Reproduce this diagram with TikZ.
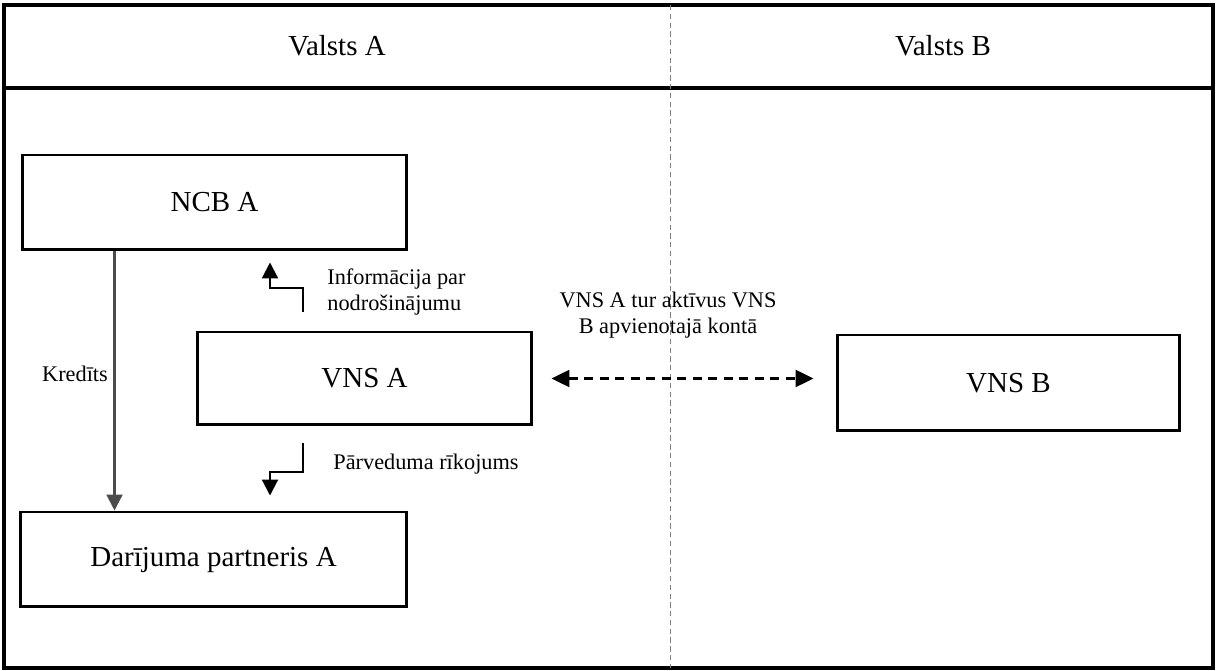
\documentclass[tikz,border=0pt]{standalone}
\usepackage{fontspec}
\setmainfont{Liberation Serif}
\usepackage{tikz}
\usetikzlibrary{arrows.meta,positioning}

\begin{document}
\begin{tikzpicture}[x=0.02cm, y=-0.02cm,
      box/.style={rectangle, draw=black, line width=1.7pt, fill=white,
                  font=\fontsize{16.5}{20}\selectfont, inner sep=0pt},
      lbl/.style={font=\fontsize{12.7}{15}\selectfont, inner sep=0pt},
      arr/.style={-{Triangle[length=3.2mm, width=3.2mm]}, line width=1.2pt, draw=black},
      darr/.style={{Triangle[length=3.6mm, width=3.4mm]}-{Triangle[length=3.6mm, width=3.4mm]},
                   line width=1.3pt, dash pattern=on 1.8mm off 1.3mm}]
    \useasboundingbox (0,0) rectangle (1218,671);
    % frame and header
    \draw[line width=2.2pt] (4,5) rectangle (1213,668);
    \draw[line width=2.2pt] (4,88) -- (1213,88);
    \draw[gray, line width=0.5pt, densely dashed] (670,5) -- (670,668);
    \node[font=\fontsize{16.5}{20}\selectfont] (hA) at (337,46) {Valsts A};
    \node[font=\fontsize{16.5}{20}\selectfont] (hB) at (943,46) {Valsts B};
    % boxes
    \node[box, minimum width=7.7cm, minimum height=1.9cm] (ncb) at (214.5,202.5) {NCB A};
    \node[box, minimum width=6.7cm, minimum height=1.86cm] (vnsa) at (364.5,378.5) {VNS A};
    \node[box, minimum width=7.74cm, minimum height=1.9cm] (dp) at (213.5,559.5) {Darījuma partneris A};
    \node[box, minimum width=6.86cm, minimum height=1.92cm] (vnsb) at (1008.5,383) {VNS B};
    % arrows
    \draw[arr, draw=black!70] ([xshift=1.88cm]ncb.south west) -- ([xshift=1.88cm]ncb.south west |- dp.north);
    \node[lbl] (kred) at (75,374) {Kredīts};
    \coordinate (i0) at (303,312);
    \draw[arr] (i0) -- ++(0,-24) -- ++(-33,0) -- ([yshift=-0.22cm]ncb.south -| 270,0);
    \node[lbl, align=left, anchor=west] (info) at (327,292) {Informācija par\\nodrošinājumu};
    \coordinate (t0) at (303,443);
    \draw[arr] (t0) -- ++(0,29) -- ++(-33,0) -- ([yshift=0.3cm]dp.north -| 270,0);
    \node[lbl, anchor=west] (transf) at (333,464) {Pārveduma rīkojums};
    \draw[darr] ([xshift=0.36cm]vnsa.east) -- ([xshift=-0.44cm]vnsb.west |- vnsa.east);
    \node[lbl, align=center] (pool) at (668,315) {VNS A tur aktīvus VNS\\B apvienotajā kontā};
  \end{tikzpicture}
\end{document}
